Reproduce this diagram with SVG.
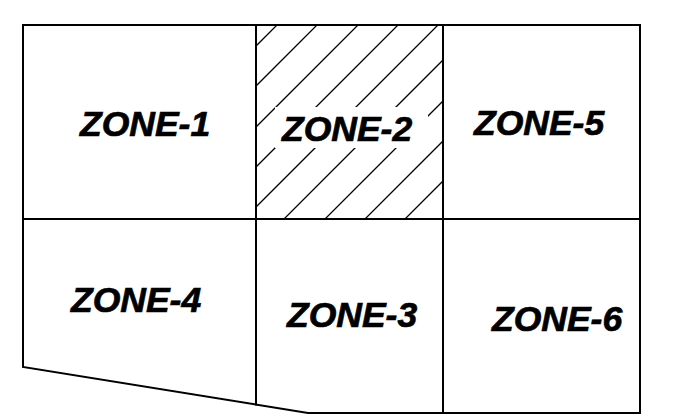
<svg xmlns="http://www.w3.org/2000/svg" width="694" height="416" viewBox="0 0 694 416">
<style>
.ln{fill:none;stroke:#000;stroke-width:2;stroke-linecap:square}
.ht{fill:none;stroke:#000;stroke-width:1.3}
.lbl{font-family:"Liberation Sans",Arial,sans-serif;font-weight:bold;font-style:italic;font-size:35.5px;fill:#000;stroke:#000;stroke-width:0.7}
</style>
<defs>
<clipPath id="z2clip"><rect x="256" y="25" width="187" height="194"/></clipPath>
</defs>
<rect x="0" y="0" width="694" height="416" fill="#fff"/>
<g id="zone-2-hatch" clip-path="url(#z2clip)">
<path class="ht" d="M302,0 L202,100 M342,0 L142,200 M383,0 L133,250 M423,0 L173,250 M463,0 L213,250 M503,0 L253,250 M544,0 L294,250 M584,0 L334,250 M624,0 L374,250"/>
<rect x="275" y="107" width="153" height="41" fill="#fff"/>
</g>
<g id="connectors">
<path class="ln" d="M23,25 H640 V413 H308 L23,367 Z"/>
<path class="ln" d="M23,219 H640"/>
<path class="ln" d="M256,25 V404.6"/>
<path class="ln" d="M443,25 V413"/>
</g>
<g id="zone-1"><text class="lbl" x="80" y="136">ZONE-1</text></g>
<g id="zone-2"><text class="lbl" x="282" y="141">ZONE-2</text></g>
<g id="zone-5"><text class="lbl" x="474" y="135">ZONE-5</text></g>
<g id="zone-4"><text class="lbl" x="71" y="312">ZONE-4</text></g>
<g id="zone-3"><text class="lbl" x="287" y="327">ZONE-3</text></g>
<g id="zone-6"><text class="lbl" x="492" y="331">ZONE-6</text></g>
</svg>
